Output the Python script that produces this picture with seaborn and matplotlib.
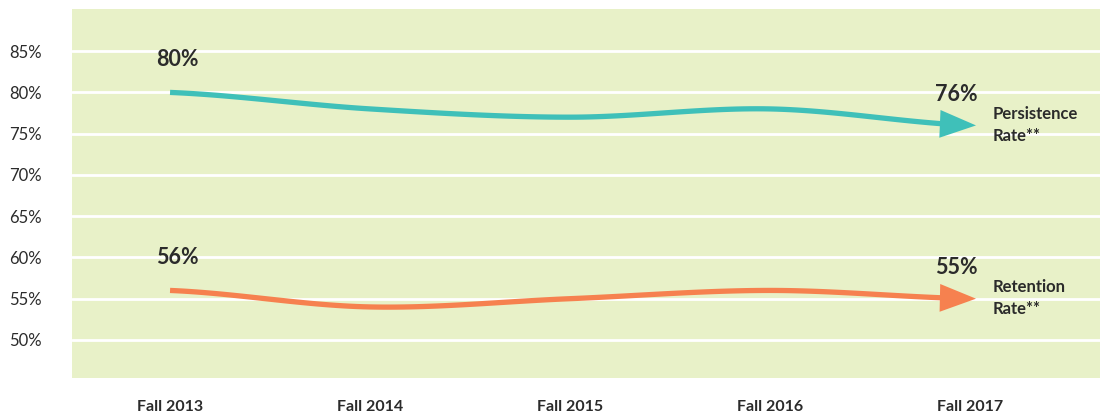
import matplotlib
matplotlib.use("Agg")
import matplotlib.pyplot as plt
import numpy as np
import pandas as pd
import seaborn as sns

# data
terms = ["Fall 2013", "Fall 2014", "Fall 2015", "Fall 2016", "Fall 2017"]
persistence = [80, 78, 77, 78, 76]
retention = [56, 54, 55, 56, 55]
series_names = ["Persistence\nRate**", "Retention\nRate**"]
y_ticks = [50, 55, 60, 65, 70, 75, 80, 85]

teal = "#3fc0b9"
orange = "#f6814f"
bg = "#e8f1c8"
txt = "#2b2b2b"

sns.set_style("white")
plt.rcParams["font.family"] = ["Lato", "DejaVu Sans"]

fig = plt.figure(figsize=(11, 4.13), dpi=100)
ax = fig.add_axes([0.0655, 0.085, 0.9345, 0.893])
ax.set_facecolor(bg)


def smooth(xs, ys, n=30):
    # catmull-rom curve through the data points, only for drawing
    xs = np.asarray(xs, float)
    ys = np.asarray(ys, float)
    px = np.concatenate([[2 * xs[0] - xs[1]], xs, [2 * xs[-1] - xs[-2]]])
    py = np.concatenate([[ys[0]], ys, [ys[-1]]])
    outx, outy = [], []
    for i in range(1, len(px) - 2):
        t = np.linspace(0, 1, n, endpoint=False)
        for p, out in ((px, outx), (py, outy)):
            p0, p1, p2, p3 = p[i - 1], p[i], p[i + 1], p[i + 2]
            out.extend(0.5 * ((2 * p1) + (-p0 + p2) * t
                              + (2 * p0 - 5 * p1 + 4 * p2 - p3) * t ** 2
                              + (-p0 + 3 * p1 - 3 * p2 + p3) * t ** 3))
    outx.append(xs[-1])
    outy.append(ys[-1])
    return np.array(outx), np.array(outy)


x = np.arange(len(terms))
for vals, col, name in [(persistence, teal, series_names[0]),
                        (retention, orange, series_names[1])]:
    sx, sy = smooth(x, vals)
    df = pd.DataFrame({"x": sx, "y": sy})
    cut = df[df.x <= 3.88]
    sns.lineplot(data=cut, x="x", y="y", color=col, lw=3.8, ax=ax,
                 sort=False, solid_capstyle="butt")
    ax.annotate("", xy=(4.03, vals[-1]), xytext=(cut.x.iloc[-1] - 0.02, cut.y.iloc[-1]),
                arrowprops=dict(arrowstyle="-|>,head_length=1.3,head_width=0.5",
                                mutation_scale=20, color=col, lw=0,
                                shrinkA=0, shrinkB=0))
    ax.text(0.035, vals[0] + 4.0, f"{vals[0]}%", ha="center", va="center",
            fontsize=15.5, color=txt, fontweight="bold")
    ax.text(3.93, vals[-1] + 3.8, f"{vals[-1]}%", ha="center", va="center",
            fontsize=15.5, color=txt, fontweight="bold")
    ax.text(4.115, vals[-1] + 0.1, name, ha="left", va="center",
            fontsize=12, color=txt, fontweight="bold", linespacing=1.45)

ax.set_xlim(-0.49, 4.65)
ax.set_ylim(45.4, 90.1)
ax.set_yticks(y_ticks)
ax.set_yticklabels([f"{v}%" for v in y_ticks])
ax.set_xticks(x)
ax.set_xticklabels(terms, fontweight="bold")
ax.tick_params(axis="y", length=0, pad=22, labelsize=12, labelcolor=txt)
ax.tick_params(axis="x", length=0, pad=16, labelsize=11.5, labelcolor=txt)
ax.grid(axis="y", color="white", lw=2)
ax.set_axisbelow(True)
ax.set_xlabel("")
ax.set_ylabel("")
for s in ax.spines.values():
    s.set_visible(False)

fig.savefig("out.png", dpi=100, facecolor="white")
